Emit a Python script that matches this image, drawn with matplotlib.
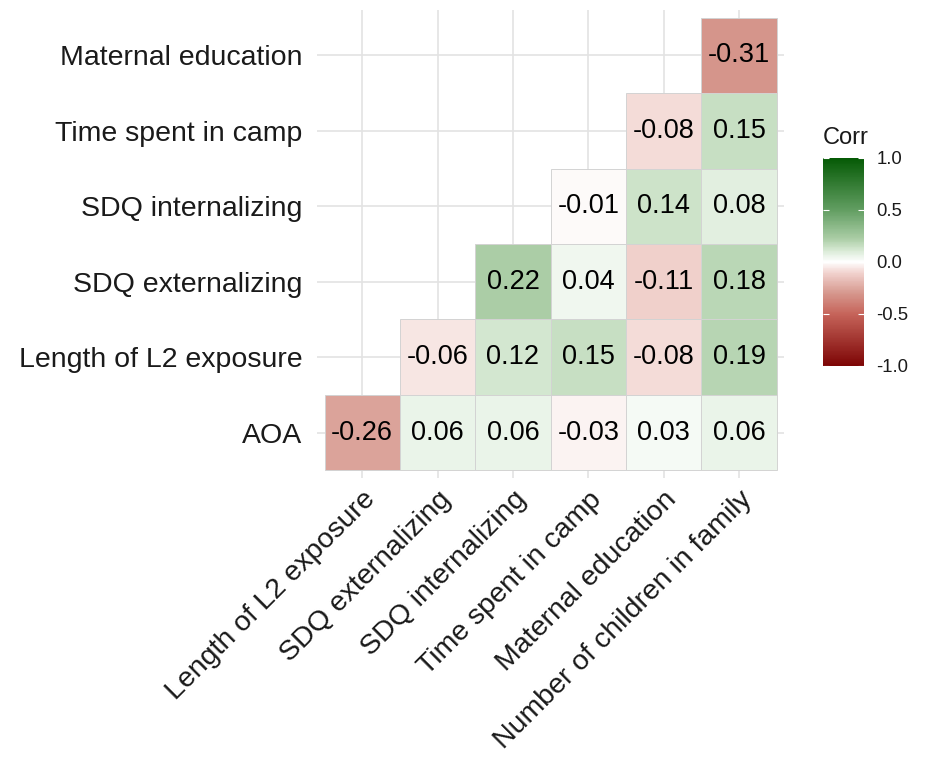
import numpy as np
import matplotlib
matplotlib.use("Agg")
import matplotlib.pyplot as plt
from matplotlib.colors import LinearSegmentedColormap, Normalize
from matplotlib.patches import Rectangle

plt.rcParams['font.family'] = ['Liberation Sans', 'DejaVu Sans']

# rows bottom -> top, columns left -> right
row_labels = ['AOA', 'Length of L2 exposure', 'SDQ externalizing',
              'SDQ internalizing', 'Time spent in camp', 'Maternal education']
col_labels = ['Length of L2 exposure', 'SDQ externalizing', 'SDQ internalizing',
              'Time spent in camp', 'Maternal education', 'Number of children in family']

nan = np.nan
aoa = [-0.26, 0.06, 0.06, -0.03, 0.03, 0.06]
l2_exposure = [nan, -0.06, 0.12, 0.15, -0.08, 0.19]
sdq_ext = [nan, nan, 0.22, 0.04, -0.11, 0.18]
sdq_int = [nan, nan, nan, -0.01, 0.14, 0.08]
time_camp = [nan, nan, nan, nan, -0.08, 0.15]
maternal_edu = [nan, nan, nan, nan, nan, -0.31]

corr = np.array([aoa, l2_exposure, sdq_ext, sdq_int, time_camp, maternal_edu])

# colour stops (value, rgb)
stops = [(-1.0, (125, 5, 5)), (-0.5, (198, 100, 90)), (-0.3, (214, 152, 142)),
         (-0.1, (242, 212, 208)), (0.0, (255, 255, 255)), (0.1, (220, 236, 217)),
         (0.22, (172, 206, 167)), (0.5, (98, 158, 98)), (1.0, (5, 90, 5))]
cmap = LinearSegmentedColormap.from_list(
    'corr', [((v + 1) / 2, tuple(c / 255 for c in rgb)) for v, rgb in stops])
norm = Normalize(-1, 1)

fig = plt.figure(figsize=(9.27, 7.58), dpi=100)
ax = fig.add_axes([0.342, 0.3694, 0.504, 0.6174])

n = len(col_labels)
for i in range(corr.shape[0]):
    for j in range(corr.shape[1]):
        v = corr[i, j]
        if np.isnan(v):
            continue
        ax.add_patch(Rectangle((j + 0.5, i + 0.5), 1, 1, facecolor=cmap(norm(v)),
                               edgecolor='#d3d3d3', linewidth=0.7, zorder=2))
        ax.text(j + 1, i + 1, f"{v:.2f}", ha='center', va='center',
                fontsize=19.5, color='black', zorder=3)

ax.set_xlim(0.4, n + 0.6)
ax.set_ylim(0.4, n + 0.6)
ax.set_xticks(np.arange(1, n + 1))
ax.set_yticks(np.arange(1, n + 1))
ax.set_xticklabels(col_labels, rotation=45, ha='right', va='top',
                   rotation_mode='anchor', fontsize=20.5, color='#1a1a1a')
ax.set_yticklabels(row_labels, fontsize=20.5, color='#1a1a1a')
ax.tick_params(length=0)
ax.tick_params(axis='y', pad=10.5)
ax.tick_params(axis='x', pad=6)
ax.grid(True, color='#e3e3e3', linewidth=1.2)
ax.set_axisbelow(True)
for s in ax.spines.values():
    s.set_visible(False)

# legend
cax = fig.add_axes([0.8878, 0.5172, 0.0442, 0.2744])
sm = plt.cm.ScalarMappable(norm=norm, cmap=cmap)
cb = fig.colorbar(sm, cax=cax, ticks=[-1, -0.5, 0, 0.5, 1])
cb.outline.set_visible(False)
cb.ax.set_yticklabels(['-1.0', '-0.5', '0.0', '0.5', '1.0'])
cax.yaxis.set_ticks_position('both')
cax.tick_params(direction='in', color='white', length=4, width=0.8,
                labelleft=False, labelright=True, labelsize=13.3,
                labelcolor='#1a1a1a', pad=9)
fig.text(0.888, 0.818, 'Corr', fontsize=17, ha='left', va='center', color='#1a1a1a')

fig.savefig('out.png', dpi=100)
